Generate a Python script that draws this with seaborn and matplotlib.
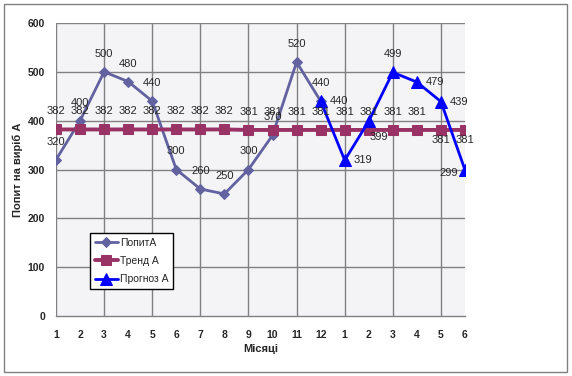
import matplotlib
matplotlib.use("Agg")
import matplotlib.pyplot as plt
import seaborn as sns
import pandas as pd
from matplotlib.patches import Rectangle

# ---- data ----
month_labels = ['1', '2', '3', '4', '5', '6', '7', '8', '9', '10', '11', '12',
                '1', '2', '3', '4', '5', '6']
demand = [320, 400, 500, 480, 440, 300, 260, 250, 300, 370, 520, 440]
trend = [382, 382, 382, 382, 382, 382, 382, 382, 381, 381, 381, 381,
         381, 381, 381, 381, 381, 381]
forecast = [440, 319, 399, 499, 479, 439, 299]
forecast_start = 11

sns.set_theme(style="white")
plt.rcParams['font.family'] = ['Liberation Sans', 'DejaVu Sans']

fig = plt.figure(figsize=(5.72, 3.76), dpi=100)
ax = fig.add_axes([56/572, 1-316/376, 409/572, 293/376])

pos = list(range(len(month_labels)))
df_d = pd.DataFrame({'x': pos[:len(demand)], 'y': demand})
df_t = pd.DataFrame({'x': pos, 'y': trend})
df_f = pd.DataFrame({'x': pos[forecast_start:forecast_start+len(forecast)], 'y': forecast})

c_d = '#6262a0'
c_t = '#993366'
c_f = '#0000ff'

sns.lineplot(data=df_d, x='x', y='y', ax=ax, color=c_d, lw=2, marker='D',
             markersize=5, markeredgecolor=c_d, label='ПопитА')
sns.lineplot(data=df_t, x='x', y='y', ax=ax, color=c_t, lw=2.8, marker='s',
             markersize=7, markeredgecolor=c_t, label='Тренд А')
sns.lineplot(data=df_f, x='x', y='y', ax=ax, color=c_f, lw=2, marker='^',
             markersize=9, markeredgecolor=c_f, label='Прогноз А')

ax.set_facecolor('#f4f3f6')
ax.set_xlim(0, 17)
ax.set_ylim(0, 600)
ax.set_yticks(range(0, 601, 100))
ax.set_xticks(pos)
ax.set_xticklabels(month_labels)
ax.tick_params(axis='both', labelsize=7.5, length=0)
ax.tick_params(axis='x', pad=10)
ax.tick_params(axis='y', pad=8)
for t in ax.get_yticklabels() + ax.get_xticklabels():
    t.set_fontweight('bold')

# gridlines
for yv in range(100, 601, 100):
    ax.axhline(yv, color='#808080', lw=1, zorder=0.5)
for xv in range(0, 18, 2):
    ax.axvline(xv, color='#808080', lw=1, zorder=0.5)
for s in ['top', 'right', 'left']:
    ax.spines[s].set_visible(False)
ax.spines['bottom'].set_color('#808080')
ax.spines['bottom'].set_linewidth(1)
ax.grid(False)

ax.set_xlabel('Місяці', fontsize=8, fontweight='bold')
ax.xaxis.set_label_coords(0.5, -0.095)
ax.set_ylabel('Попит на виріб А', fontsize=8, fontweight='bold')
ax.yaxis.set_label_coords(-0.093, 0.5)
ax.yaxis.label.set_va('center')

fs = 8
# demand labels (above)
for x, y in zip(df_d['x'], df_d['y']):
    ax.annotate(str(y), (x, y), textcoords='offset pixels', xytext=(0, 18),
                ha='center', va='center', fontsize=fs)
# trend labels
for i, (x, y) in enumerate(zip(df_t['x'], df_t['y'])):
    dy = -10 if i >= 16 else 18
    ax.annotate(str(y), (x, y), textcoords='offset pixels', xytext=(0, dy),
                ha='center', va='center', fontsize=fs)
# forecast labels
f_off = [(18, 0), (18, 0), (10, -16), (0, 18), (18, 0), (18, 0), (-16, -3)]
for (x, y), (dx, dy) in zip(zip(df_f['x'], df_f['y']), f_off):
    ax.annotate(str(y), (x, y), textcoords='offset pixels', xytext=(dx, dy),
                ha='center', va='center', fontsize=fs)

leg = ax.legend(loc='upper left', bbox_to_anchor=(0.083, 0.283), fontsize=7.5,
                frameon=True, fancybox=False, handlelength=2.2, borderpad=0.45,
                labelspacing=0.8, handletextpad=0.2, borderaxespad=0)
leg.get_frame().set_edgecolor('black')
leg.get_frame().set_linewidth(1)
leg.get_frame().set_facecolor('white')
leg.get_frame().set_alpha(1)

fig.patches.append(Rectangle((4/572, 1-372/376), 563/572, 368/376,
                             transform=fig.transFigure, fill=False,
                             edgecolor='#808080', lw=1))

fig.savefig('out.png', dpi=100)
